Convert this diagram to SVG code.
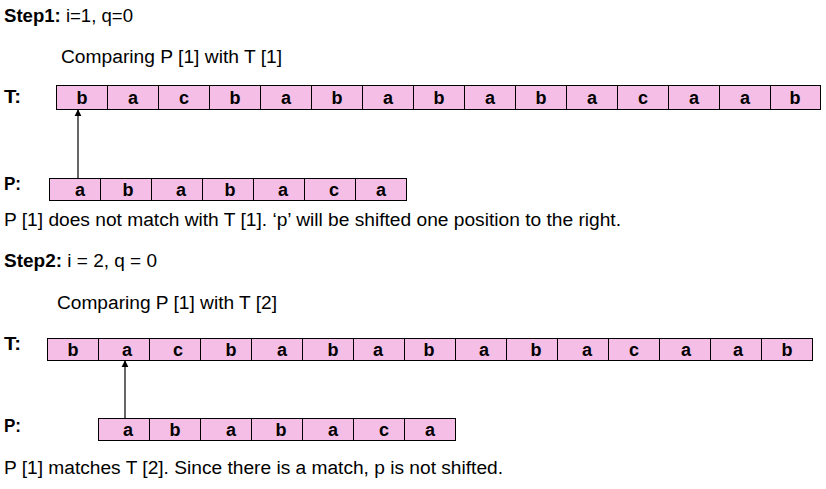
<svg xmlns="http://www.w3.org/2000/svg" width="826" height="489" viewBox="0 0 826 489">
<defs>
<style>
text{font-family:"Liberation Sans",Arial,sans-serif;fill:#000}
.t{font-size:18px}
.b{font-weight:bold}
.c{font-size:18px;font-weight:bold;text-anchor:middle}
.cell{fill:#F4BEE6;stroke:#000;stroke-width:1}
.arr{stroke:#000;stroke-width:1.2;fill:none;marker-end:url(#ah)}
</style>
<marker id="ah" viewBox="0 0 10 10" refX="9" refY="5" markerWidth="7" markerHeight="8" markerUnits="userSpaceOnUse" orient="auto">
<path d="M0,0 L10,5 L0,10 z" fill="#000"/>
</marker>
</defs>
<rect width="826" height="489" fill="#fff"/>

<g id="step1-text">
<text class="t" x="4" y="22" textLength="129" lengthAdjust="spacingAndGlyphs"><tspan class="b">Step1:</tspan> i=1, q=0</text>
<text class="t" x="61" y="63" textLength="221" lengthAdjust="spacingAndGlyphs">Comparing P [1] with T [1]</text>
<text class="t b" x="4" y="103" textLength="17" lengthAdjust="spacingAndGlyphs">T:</text>
<text class="t b" x="4" y="190" textLength="17" lengthAdjust="spacingAndGlyphs">P:</text>
<text class="t" x="4" y="226" textLength="617" lengthAdjust="spacingAndGlyphs">P [1] does not match with T [1]. ‘p’ will be shifted one position to the right.</text>
</g>

<g id="T1">
<rect class="cell" x="56.5" y="85.5" width="51" height="24"/>
<rect class="cell" x="107.5" y="85.5" width="51" height="24"/>
<rect class="cell" x="158.5" y="85.5" width="51" height="24"/>
<rect class="cell" x="209.5" y="85.5" width="51" height="24"/>
<rect class="cell" x="260.5" y="85.5" width="51" height="24"/>
<rect class="cell" x="311.5" y="85.5" width="51" height="24"/>
<rect class="cell" x="362.5" y="85.5" width="51" height="24"/>
<rect class="cell" x="413.5" y="85.5" width="51" height="24"/>
<rect class="cell" x="464.5" y="85.5" width="51" height="24"/>
<rect class="cell" x="515.5" y="85.5" width="51" height="24"/>
<rect class="cell" x="566.5" y="85.5" width="51" height="24"/>
<rect class="cell" x="617.5" y="85.5" width="51" height="24"/>
<rect class="cell" x="668.5" y="85.5" width="51" height="24"/>
<rect class="cell" x="719.5" y="85.5" width="51" height="24"/>
<rect class="cell" x="770.5" y="85.5" width="50" height="24"/>
<text class="c" x="82" y="104">b</text>
<text class="c" x="133" y="104">a</text>
<text class="c" x="184" y="104">c</text>
<text class="c" x="235" y="104">b</text>
<text class="c" x="286" y="104">a</text>
<text class="c" x="337" y="104">b</text>
<text class="c" x="388" y="104">a</text>
<text class="c" x="439" y="104">b</text>
<text class="c" x="490" y="104">a</text>
<text class="c" x="541" y="104">b</text>
<text class="c" x="592" y="104">a</text>
<text class="c" x="643" y="104">c</text>
<text class="c" x="694" y="104">a</text>
<text class="c" x="745" y="104">a</text>
<text class="c" x="795" y="104">b</text>
</g>

<g id="P1">
<rect class="cell" x="49.5" y="178.5" width="51" height="22"/>
<rect class="cell" x="100.5" y="178.5" width="51" height="22"/>
<rect class="cell" x="151.5" y="178.5" width="51" height="22"/>
<rect class="cell" x="202.5" y="178.5" width="51" height="22"/>
<rect class="cell" x="253.5" y="178.5" width="51" height="22"/>
<rect class="cell" x="304.5" y="178.5" width="51" height="22"/>
<rect class="cell" x="355.5" y="178.5" width="51" height="22"/>
<text class="c" x="80" y="196">a</text>
<text class="c" x="128" y="196">b</text>
<text class="c" x="181" y="196">a</text>
<text class="c" x="230" y="196">b</text>
<text class="c" x="283" y="196">a</text>
<text class="c" x="334" y="196">c</text>
<text class="c" x="381" y="196">a</text>
</g>

<g id="step2-text">
<text class="t" x="4" y="267" textLength="153" lengthAdjust="spacingAndGlyphs"><tspan class="b">Step2:</tspan> i = 2, q = 0</text>
<text class="t" x="57" y="309" textLength="220" lengthAdjust="spacingAndGlyphs">Comparing P [1] with T [2]</text>
<text class="t b" x="4" y="350" textLength="17" lengthAdjust="spacingAndGlyphs">T:</text>
<text class="t b" x="4" y="432" textLength="17" lengthAdjust="spacingAndGlyphs">P:</text>
<text class="t" x="4" y="474" textLength="499" lengthAdjust="spacingAndGlyphs">P [1] matches T [2]. Since there is a match, p is not shifted.</text>
</g>

<g id="T2">
<rect class="cell" x="47.5" y="338.5" width="51" height="22"/>
<rect class="cell" x="98.5" y="338.5" width="51" height="22"/>
<rect class="cell" x="149.5" y="338.5" width="51" height="22"/>
<rect class="cell" x="200.5" y="338.5" width="51" height="22"/>
<rect class="cell" x="251.5" y="338.5" width="51" height="22"/>
<rect class="cell" x="302.5" y="338.5" width="51" height="22"/>
<rect class="cell" x="353.5" y="338.5" width="51" height="22"/>
<rect class="cell" x="404.5" y="338.5" width="51" height="22"/>
<rect class="cell" x="455.5" y="338.5" width="51" height="22"/>
<rect class="cell" x="506.5" y="338.5" width="51" height="22"/>
<rect class="cell" x="557.5" y="338.5" width="51" height="22"/>
<rect class="cell" x="608.5" y="338.5" width="51" height="22"/>
<rect class="cell" x="659.5" y="338.5" width="51" height="22"/>
<rect class="cell" x="710.5" y="338.5" width="51" height="22"/>
<rect class="cell" x="761.5" y="338.5" width="51" height="22"/>
<text class="c" x="73" y="356">b</text>
<text class="c" x="127" y="356">a</text>
<text class="c" x="178" y="356">c</text>
<text class="c" x="231" y="356">b</text>
<text class="c" x="282" y="356">a</text>
<text class="c" x="333" y="356">b</text>
<text class="c" x="378" y="356">a</text>
<text class="c" x="429" y="356">b</text>
<text class="c" x="484" y="356">a</text>
<text class="c" x="536" y="356">b</text>
<text class="c" x="587" y="356">a</text>
<text class="c" x="634" y="356">c</text>
<text class="c" x="686" y="356">a</text>
<text class="c" x="738" y="356">a</text>
<text class="c" x="787" y="356">b</text>
</g>

<g id="P2">
<rect class="cell" x="98.5" y="418.5" width="51" height="22"/>
<rect class="cell" x="149.5" y="418.5" width="51" height="22"/>
<rect class="cell" x="200.5" y="418.5" width="51" height="22"/>
<rect class="cell" x="251.5" y="418.5" width="51" height="22"/>
<rect class="cell" x="302.5" y="418.5" width="51" height="22"/>
<rect class="cell" x="353.5" y="418.5" width="51" height="22"/>
<rect class="cell" x="404.5" y="418.5" width="51" height="22"/>
<text class="c" x="128" y="436">a</text>
<text class="c" x="175" y="436">b</text>
<text class="c" x="231" y="436">a</text>
<text class="c" x="281" y="436">b</text>
<text class="c" x="333" y="436">a</text>
<text class="c" x="384" y="436">c</text>
<text class="c" x="430" y="436">a</text>
</g>

<g id="connectors">
<line class="arr" x1="78" y1="178" x2="78" y2="110"/>
<line class="arr" x1="125" y1="418" x2="125" y2="361"/>
</g>
</svg>
